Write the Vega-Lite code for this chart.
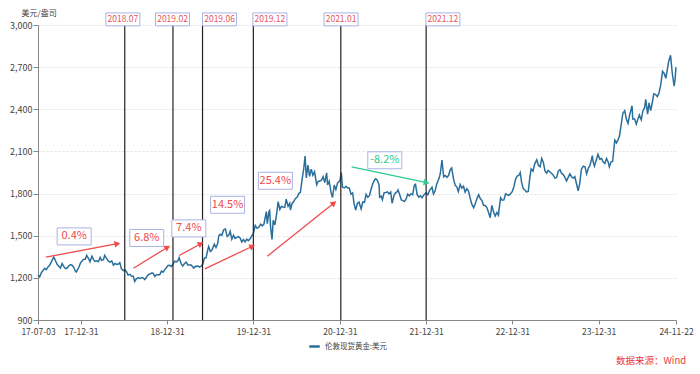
{
  "$schema": "https://vega.github.io/schema/vega-lite/v6.json",
  "autosize": {"type": "none"},
  "width": 638,
  "height": 295,
  "padding": {"left": 38, "top": 25, "right": 24, "bottom": 54},
  "background": "white",
  "config": {
    "font": "Noto Sans CJK SC",
    "view": {"stroke": null}
  },
  "title": {
    "text": "数据来源：Wind",
    "orient": "bottom",
    "anchor": "end",
    "color": "#e8383d",
    "fontSize": 9.5,
    "fontWeight": "normal",
    "offset": 4,
    "dx": -7
  },
  "datasets": {
    "gold": [
      {"date": "2017-07-03", "price": 1220}, {"date": "2017-07-10", "price": 1207}, {"date": "2017-07-17", "price": 1235}, {"date": "2017-07-24", "price": 1252}, {"date": "2017-07-31", "price": 1268},
      {"date": "2017-08-07", "price": 1258}, {"date": "2017-08-14", "price": 1278}, {"date": "2017-08-21", "price": 1290}, {"date": "2017-08-28", "price": 1312},
      {"date": "2017-09-05", "price": 1339}, {"date": "2017-09-08", "price": 1348}, {"date": "2017-09-15", "price": 1322}, {"date": "2017-09-22", "price": 1296}, {"date": "2017-09-29", "price": 1283},
      {"date": "2017-10-06", "price": 1270}, {"date": "2017-10-13", "price": 1302}, {"date": "2017-10-20", "price": 1282}, {"date": "2017-10-27", "price": 1266},
      {"date": "2017-11-03", "price": 1270}, {"date": "2017-11-10", "price": 1285}, {"date": "2017-11-17", "price": 1294}, {"date": "2017-11-24", "price": 1290},
      {"date": "2017-12-01", "price": 1275}, {"date": "2017-12-08", "price": 1248}, {"date": "2017-12-12", "price": 1242}, {"date": "2017-12-18", "price": 1260}, {"date": "2017-12-22", "price": 1272}, {"date": "2017-12-29", "price": 1303},
      {"date": "2018-01-05", "price": 1320}, {"date": "2018-01-12", "price": 1333}, {"date": "2018-01-19", "price": 1332}, {"date": "2018-01-25", "price": 1360},
      {"date": "2018-02-02", "price": 1337}, {"date": "2018-02-08", "price": 1315}, {"date": "2018-02-16", "price": 1354}, {"date": "2018-02-23", "price": 1330},
      {"date": "2018-03-01", "price": 1317}, {"date": "2018-03-09", "price": 1322}, {"date": "2018-03-16", "price": 1315}, {"date": "2018-03-23", "price": 1346}, {"date": "2018-03-29", "price": 1325},
      {"date": "2018-04-06", "price": 1330}, {"date": "2018-04-11", "price": 1360}, {"date": "2018-04-20", "price": 1337}, {"date": "2018-04-27", "price": 1319},
      {"date": "2018-05-04", "price": 1312}, {"date": "2018-05-11", "price": 1320}, {"date": "2018-05-18", "price": 1290}, {"date": "2018-05-25", "price": 1302},
      {"date": "2018-06-01", "price": 1296}, {"date": "2018-06-08", "price": 1299}, {"date": "2018-06-14", "price": 1308}, {"date": "2018-06-21", "price": 1264}, {"date": "2018-06-29", "price": 1252},
      {"date": "2018-07-06", "price": 1256}, {"date": "2018-07-13", "price": 1242}, {"date": "2018-07-19", "price": 1220}, {"date": "2018-07-27", "price": 1225},
      {"date": "2018-08-03", "price": 1212}, {"date": "2018-08-10", "price": 1211}, {"date": "2018-08-16", "price": 1175}, {"date": "2018-08-24", "price": 1195}, {"date": "2018-08-31", "price": 1201},
      {"date": "2018-09-07", "price": 1196}, {"date": "2018-09-14", "price": 1201}, {"date": "2018-09-21", "price": 1200}, {"date": "2018-09-28", "price": 1188},
      {"date": "2018-10-05", "price": 1205}, {"date": "2018-10-12", "price": 1222}, {"date": "2018-10-19", "price": 1227}, {"date": "2018-10-26", "price": 1234},
      {"date": "2018-11-02", "price": 1233}, {"date": "2018-11-09", "price": 1210}, {"date": "2018-11-16", "price": 1222}, {"date": "2018-11-23", "price": 1222}, {"date": "2018-11-30", "price": 1222},
      {"date": "2018-12-07", "price": 1248}, {"date": "2018-12-14", "price": 1240}, {"date": "2018-12-21", "price": 1257}, {"date": "2018-12-31", "price": 1279},
      {"date": "2019-01-04", "price": 1288}, {"date": "2019-01-11", "price": 1289}, {"date": "2019-01-18", "price": 1281}, {"date": "2019-01-25", "price": 1298},
      {"date": "2019-02-01", "price": 1319}, {"date": "2019-02-08", "price": 1314}, {"date": "2019-02-15", "price": 1322}, {"date": "2019-02-20", "price": 1344},
      {"date": "2019-03-01", "price": 1299}, {"date": "2019-03-07", "price": 1285}, {"date": "2019-03-15", "price": 1302}, {"date": "2019-03-22", "price": 1312}, {"date": "2019-03-29", "price": 1292},
      {"date": "2019-04-05", "price": 1291}, {"date": "2019-04-12", "price": 1292}, {"date": "2019-04-23", "price": 1270}, {"date": "2019-04-30", "price": 1283},
      {"date": "2019-05-03", "price": 1280}, {"date": "2019-05-10", "price": 1286}, {"date": "2019-05-17", "price": 1277}, {"date": "2019-05-24", "price": 1283}, {"date": "2019-05-31", "price": 1296},
      {"date": "2019-06-07", "price": 1341}, {"date": "2019-06-14", "price": 1342}, {"date": "2019-06-21", "price": 1399}, {"date": "2019-06-25", "price": 1423},
      {"date": "2019-07-02", "price": 1388}, {"date": "2019-07-09", "price": 1398}, {"date": "2019-07-19", "price": 1440}, {"date": "2019-07-26", "price": 1416},
      {"date": "2019-08-02", "price": 1444}, {"date": "2019-08-07", "price": 1500}, {"date": "2019-08-13", "price": 1510}, {"date": "2019-08-20", "price": 1503}, {"date": "2019-08-27", "price": 1541},
      {"date": "2019-09-04", "price": 1549}, {"date": "2019-09-11", "price": 1494}, {"date": "2019-09-18", "price": 1503}, {"date": "2019-09-24", "price": 1531},
      {"date": "2019-10-01", "price": 1475}, {"date": "2019-10-08", "price": 1503}, {"date": "2019-10-15", "price": 1481}, {"date": "2019-10-22", "price": 1488}, {"date": "2019-10-29", "price": 1493},
      {"date": "2019-11-05", "price": 1484}, {"date": "2019-11-12", "price": 1455}, {"date": "2019-11-19", "price": 1472}, {"date": "2019-11-26", "price": 1456},
      {"date": "2019-12-03", "price": 1475}, {"date": "2019-12-10", "price": 1465}, {"date": "2019-12-17", "price": 1478}, {"date": "2019-12-24", "price": 1498}, {"date": "2019-12-31", "price": 1515},
      {"date": "2020-01-08", "price": 1573}, {"date": "2020-01-15", "price": 1554}, {"date": "2020-01-22", "price": 1558}, {"date": "2020-01-31", "price": 1582},
      {"date": "2020-02-07", "price": 1570}, {"date": "2020-02-14", "price": 1584}, {"date": "2020-02-24", "price": 1672}, {"date": "2020-02-28", "price": 1586},
      {"date": "2020-03-06", "price": 1673}, {"date": "2020-03-09", "price": 1680}, {"date": "2020-03-13", "price": 1560}, {"date": "2020-03-19", "price": 1474}, {"date": "2020-03-24", "price": 1610}, {"date": "2020-03-31", "price": 1577},
      {"date": "2020-04-07", "price": 1649}, {"date": "2020-04-14", "price": 1742}, {"date": "2020-04-21", "price": 1688}, {"date": "2020-04-28", "price": 1709},
      {"date": "2020-05-05", "price": 1705}, {"date": "2020-05-12", "price": 1702}, {"date": "2020-05-18", "price": 1760}, {"date": "2020-05-26", "price": 1710},
      {"date": "2020-06-02", "price": 1730}, {"date": "2020-06-05", "price": 1683}, {"date": "2020-06-12", "price": 1730}, {"date": "2020-06-19", "price": 1743}, {"date": "2020-06-26", "price": 1765},
      {"date": "2020-07-03", "price": 1774}, {"date": "2020-07-10", "price": 1800}, {"date": "2020-07-17", "price": 1809}, {"date": "2020-07-24", "price": 1897}, {"date": "2020-07-31", "price": 1975},
      {"date": "2020-08-06", "price": 2067}, {"date": "2020-08-11", "price": 1912}, {"date": "2020-08-18", "price": 2002}, {"date": "2020-08-25", "price": 1923},
      {"date": "2020-09-01", "price": 1974}, {"date": "2020-09-08", "price": 1930}, {"date": "2020-09-15", "price": 1955}, {"date": "2020-09-24", "price": 1862}, {"date": "2020-09-30", "price": 1886},
      {"date": "2020-10-07", "price": 1889}, {"date": "2020-10-14", "price": 1895}, {"date": "2020-10-21", "price": 1920}, {"date": "2020-10-28", "price": 1878},
      {"date": "2020-11-05", "price": 1948}, {"date": "2020-11-09", "price": 1862}, {"date": "2020-11-16", "price": 1888}, {"date": "2020-11-24", "price": 1805}, {"date": "2020-11-30", "price": 1772},
      {"date": "2020-12-07", "price": 1861}, {"date": "2020-12-14", "price": 1829}, {"date": "2020-12-21", "price": 1875}, {"date": "2020-12-31", "price": 1891},
      {"date": "2021-01-06", "price": 1950}, {"date": "2021-01-11", "price": 1846}, {"date": "2021-01-19", "price": 1840}, {"date": "2021-01-26", "price": 1852},
      {"date": "2021-02-02", "price": 1839}, {"date": "2021-02-09", "price": 1840}, {"date": "2021-02-16", "price": 1795}, {"date": "2021-02-23", "price": 1805},
      {"date": "2021-03-01", "price": 1728}, {"date": "2021-03-08", "price": 1683}, {"date": "2021-03-15", "price": 1730}, {"date": "2021-03-22", "price": 1740}, {"date": "2021-03-31", "price": 1691},
      {"date": "2021-04-07", "price": 1740}, {"date": "2021-04-14", "price": 1737}, {"date": "2021-04-21", "price": 1794}, {"date": "2021-04-28", "price": 1773},
      {"date": "2021-05-05", "price": 1785}, {"date": "2021-05-12", "price": 1831}, {"date": "2021-05-19", "price": 1870}, {"date": "2021-05-27", "price": 1898},
      {"date": "2021-06-01", "price": 1905}, {"date": "2021-06-08", "price": 1894}, {"date": "2021-06-15", "price": 1860}, {"date": "2021-06-17", "price": 1774}, {"date": "2021-06-24", "price": 1781}, {"date": "2021-06-29", "price": 1756},
      {"date": "2021-07-06", "price": 1805}, {"date": "2021-07-13", "price": 1808}, {"date": "2021-07-20", "price": 1812}, {"date": "2021-07-27", "price": 1798},
      {"date": "2021-08-03", "price": 1811}, {"date": "2021-08-09", "price": 1731}, {"date": "2021-08-17", "price": 1787}, {"date": "2021-08-24", "price": 1805}, {"date": "2021-08-31", "price": 1815},
      {"date": "2021-09-03", "price": 1826}, {"date": "2021-09-10", "price": 1793}, {"date": "2021-09-17", "price": 1755}, {"date": "2021-09-24", "price": 1750}, {"date": "2021-09-30", "price": 1743},
      {"date": "2021-10-07", "price": 1760}, {"date": "2021-10-14", "price": 1796}, {"date": "2021-10-21", "price": 1784}, {"date": "2021-10-28", "price": 1799},
      {"date": "2021-11-04", "price": 1791}, {"date": "2021-11-11", "price": 1860}, {"date": "2021-11-16", "price": 1866}, {"date": "2021-11-23", "price": 1792}, {"date": "2021-11-30", "price": 1774},
      {"date": "2021-12-07", "price": 1784}, {"date": "2021-12-14", "price": 1770}, {"date": "2021-12-21", "price": 1790}, {"date": "2021-12-31", "price": 1805},
      {"date": "2022-01-07", "price": 1791}, {"date": "2022-01-14", "price": 1821}, {"date": "2022-01-25", "price": 1845}, {"date": "2022-01-31", "price": 1797},
      {"date": "2022-02-07", "price": 1820}, {"date": "2022-02-14", "price": 1869}, {"date": "2022-02-24", "price": 1910},
      {"date": "2022-03-01", "price": 1943}, {"date": "2022-03-08", "price": 2039}, {"date": "2022-03-15", "price": 1920}, {"date": "2022-03-22", "price": 1929}, {"date": "2022-03-29", "price": 1915},
      {"date": "2022-04-05", "price": 1930}, {"date": "2022-04-12", "price": 1970}, {"date": "2022-04-18", "price": 1982}, {"date": "2022-04-26", "price": 1903},
      {"date": "2022-05-03", "price": 1860}, {"date": "2022-05-10", "price": 1846}, {"date": "2022-05-16", "price": 1814}, {"date": "2022-05-24", "price": 1865}, {"date": "2022-05-31", "price": 1839},
      {"date": "2022-06-07", "price": 1852}, {"date": "2022-06-14", "price": 1810}, {"date": "2022-06-21", "price": 1835}, {"date": "2022-06-28", "price": 1820},
      {"date": "2022-07-05", "price": 1769}, {"date": "2022-07-12", "price": 1725}, {"date": "2022-07-20", "price": 1700}, {"date": "2022-07-27", "price": 1730},
      {"date": "2022-08-03", "price": 1764}, {"date": "2022-08-10", "price": 1792}, {"date": "2022-08-17", "price": 1765}, {"date": "2022-08-24", "price": 1750}, {"date": "2022-08-31", "price": 1715},
      {"date": "2022-09-07", "price": 1715}, {"date": "2022-09-14", "price": 1700}, {"date": "2022-09-21", "price": 1665}, {"date": "2022-09-28", "price": 1628},
      {"date": "2022-10-05", "price": 1716}, {"date": "2022-10-12", "price": 1670}, {"date": "2022-10-19", "price": 1640}, {"date": "2022-10-26", "price": 1665},
      {"date": "2022-11-02", "price": 1646}, {"date": "2022-11-04", "price": 1680}, {"date": "2022-11-11", "price": 1770}, {"date": "2022-11-18", "price": 1753}, {"date": "2022-11-25", "price": 1755},
      {"date": "2022-12-02", "price": 1798}, {"date": "2022-12-09", "price": 1792}, {"date": "2022-12-16", "price": 1787}, {"date": "2022-12-23", "price": 1798}, {"date": "2022-12-30", "price": 1813},
      {"date": "2023-01-06", "price": 1847}, {"date": "2023-01-13", "price": 1900}, {"date": "2023-01-20", "price": 1925}, {"date": "2023-01-27", "price": 1929},
      {"date": "2023-02-02", "price": 1950}, {"date": "2023-02-08", "price": 1878}, {"date": "2023-02-15", "price": 1835}, {"date": "2023-02-22", "price": 1826}, {"date": "2023-02-28", "price": 1812},
      {"date": "2023-03-08", "price": 1815}, {"date": "2023-03-14", "price": 1905}, {"date": "2023-03-20", "price": 1975}, {"date": "2023-03-28", "price": 1960},
      {"date": "2023-04-04", "price": 2010}, {"date": "2023-04-13", "price": 2040}, {"date": "2023-04-20", "price": 2001}, {"date": "2023-04-27", "price": 1990},
      {"date": "2023-05-04", "price": 2050}, {"date": "2023-05-11", "price": 2020}, {"date": "2023-05-18", "price": 1960}, {"date": "2023-05-25", "price": 1945}, {"date": "2023-05-31", "price": 1965},
      {"date": "2023-06-07", "price": 1955}, {"date": "2023-06-14", "price": 1945}, {"date": "2023-06-21", "price": 1933}, {"date": "2023-06-29", "price": 1910},
      {"date": "2023-07-06", "price": 1915}, {"date": "2023-07-13", "price": 1960}, {"date": "2023-07-20", "price": 1970}, {"date": "2023-07-27", "price": 1945},
      {"date": "2023-08-03", "price": 1935}, {"date": "2023-08-10", "price": 1915}, {"date": "2023-08-17", "price": 1890}, {"date": "2023-08-24", "price": 1915}, {"date": "2023-08-31", "price": 1940},
      {"date": "2023-09-07", "price": 1920}, {"date": "2023-09-14", "price": 1910}, {"date": "2023-09-21", "price": 1920}, {"date": "2023-09-28", "price": 1870},
      {"date": "2023-10-05", "price": 1820}, {"date": "2023-10-12", "price": 1875}, {"date": "2023-10-19", "price": 1975}, {"date": "2023-10-27", "price": 1995},
      {"date": "2023-11-03", "price": 1990}, {"date": "2023-11-10", "price": 1940}, {"date": "2023-11-17", "price": 1980}, {"date": "2023-11-24", "price": 2000}, {"date": "2023-11-30", "price": 2040},
      {"date": "2023-12-04", "price": 2070}, {"date": "2023-12-07", "price": 2030}, {"date": "2023-12-13", "price": 1995}, {"date": "2023-12-20", "price": 2035}, {"date": "2023-12-28", "price": 2080},
      {"date": "2024-01-05", "price": 2045}, {"date": "2024-01-12", "price": 2050}, {"date": "2024-01-19", "price": 2025}, {"date": "2024-01-26", "price": 2015},
      {"date": "2024-02-02", "price": 2050}, {"date": "2024-02-09", "price": 2025}, {"date": "2024-02-14", "price": 1990}, {"date": "2024-02-21", "price": 2025}, {"date": "2024-02-28", "price": 2030},
      {"date": "2024-03-05", "price": 2130}, {"date": "2024-03-08", "price": 2180}, {"date": "2024-03-15", "price": 2160}, {"date": "2024-03-21", "price": 2180}, {"date": "2024-03-28", "price": 2210},
      {"date": "2024-04-04", "price": 2290}, {"date": "2024-04-11", "price": 2370}, {"date": "2024-04-19", "price": 2390}, {"date": "2024-04-26", "price": 2330},
      {"date": "2024-05-03", "price": 2300}, {"date": "2024-05-10", "price": 2360}, {"date": "2024-05-20", "price": 2425}, {"date": "2024-05-23", "price": 2330}, {"date": "2024-05-31", "price": 2330},
      {"date": "2024-06-07", "price": 2295}, {"date": "2024-06-14", "price": 2330}, {"date": "2024-06-20", "price": 2360}, {"date": "2024-06-28", "price": 2325},
      {"date": "2024-07-05", "price": 2390}, {"date": "2024-07-12", "price": 2410}, {"date": "2024-07-17", "price": 2470}, {"date": "2024-07-25", "price": 2365}, {"date": "2024-07-31", "price": 2445},
      {"date": "2024-08-07", "price": 2390}, {"date": "2024-08-14", "price": 2450}, {"date": "2024-08-20", "price": 2510}, {"date": "2024-08-28", "price": 2505},
      {"date": "2024-09-04", "price": 2490}, {"date": "2024-09-11", "price": 2515}, {"date": "2024-09-18", "price": 2570}, {"date": "2024-09-26", "price": 2670},
      {"date": "2024-10-03", "price": 2655}, {"date": "2024-10-10", "price": 2620}, {"date": "2024-10-17", "price": 2690}, {"date": "2024-10-22", "price": 2740}, {"date": "2024-10-30", "price": 2785},
      {"date": "2024-11-06", "price": 2660}, {"date": "2024-11-14", "price": 2565}, {"date": "2024-11-18", "price": 2610}, {"date": "2024-11-22", "price": 2700}
    ],
    "events": [
      {"date": "2018-07-05", "labelDate": "2018-06-27", "label": "2018.07"},
      {"date": "2019-01-25", "labelDate": "2019-01-23", "label": "2019.02"},
      {"date": "2019-05-30", "labelDate": "2019-08-10", "label": "2019.06"},
      {"date": "2019-12-31", "labelDate": "2020-03-10", "label": "2019.12"},
      {"date": "2021-01-04", "labelDate": "2021-01-05", "label": "2021.01"},
      {"date": "2021-12-31", "labelDate": "2022-03-12", "label": "2021.12"}
    ],
    "arrows": [
      {"id": 1, "dir": "rise", "start": "2017-08-05", "v1": 1347, "end": "2018-06-04", "v2": 1443},
      {"id": 2, "dir": "rise", "start": "2018-08-11", "v1": 1268, "end": "2019-01-02", "v2": 1418},
      {"id": 3, "dir": "rise", "start": "2019-02-20", "v1": 1359, "end": "2019-05-23", "v2": 1443},
      {"id": 4, "dir": "rise", "start": "2019-06-09", "v1": 1264, "end": "2019-12-27", "v2": 1425},
      {"id": 5, "dir": "rise", "start": "2020-02-28", "v1": 1354, "end": "2020-12-06", "v2": 1733},
      {"id": 6, "dir": "fall", "start": "2021-02-19", "v1": 1990, "end": "2022-01-02", "v2": 1878}
    ],
    "notes": [
      {"dir": "rise", "date": "2017-12-03", "value": 1495, "label": "0.4%"},
      {"dir": "rise", "date": "2018-10-06", "value": 1484, "label": "6.8%"},
      {"dir": "rise", "date": "2019-04-02", "value": 1552, "label": "7.4%"},
      {"dir": "rise", "date": "2019-09-13", "value": 1720, "label": "14.5%"},
      {"dir": "rise", "date": "2020-04-02", "value": 1891, "label": "25.4%"},
      {"dir": "fall", "date": "2021-07-09", "value": 2037, "label": "-8.2%"}
    ]
  },
  "encoding": {
    "x": {
      "field": "date",
      "type": "temporal",
      "scale": {"type": "utc", "domain": [{"year": 2017, "month": 7, "date": 3, "utc": true}, {"year": 2024, "month": 11, "date": 22, "utc": true}]},
      "axis": {
        "title": null,
        "format": "%y-%m-%d",
        "values": [
          {"year": 2017, "month": 7, "date": 3, "utc": true},
          {"year": 2017, "month": 12, "date": 31, "utc": true},
          {"year": 2018, "month": 12, "date": 31, "utc": true},
          {"year": 2019, "month": 12, "date": 31, "utc": true},
          {"year": 2020, "month": 12, "date": 31, "utc": true},
          {"year": 2021, "month": 12, "date": 31, "utc": true},
          {"year": 2022, "month": 12, "date": 31, "utc": true},
          {"year": 2023, "month": 12, "date": 31, "utc": true},
          {"year": 2024, "month": 11, "date": 22, "utc": true}
        ],
        "grid": false,
        "labelFontSize": 8.5,
        "labelColor": "#444",
        "labelOverlap": false,
        "labelFlush": false,
        "labelPadding": 3,
        "domainColor": "#888",
        "tickColor": "#888",
        "tickSize": 4
      }
    }
  },
  "layer": [
    {
      "data": {"name": "gold"},
      "mark": {"type": "line", "strokeWidth": 1.5},
      "encoding": {
        "y": {
          "field": "price",
          "type": "quantitative",
          "scale": {"domain": [900, 3000], "nice": false, "zero": false},
          "axis": {
            "title": "美元/盎司",
            "titleAngle": 0,
            "titleAlign": "left",
            "titleBaseline": "middle",
            "titleX": -17,
            "titleY": -12,
            "titleFontSize": 8,
            "titleFontWeight": "normal",
            "titleColor": "#444",
            "values": [900, 1200, 1500, 1800, 2100, 2400, 2700, 3000],
            "format": ",.0f",
            "labelFontSize": 9,
            "labelColor": "#444",
            "labelPadding": 1,
            "domainColor": "#888",
            "tickColor": "#888",
            "tickSize": 5,
            "gridColor": "#e2e2e2",
            "gridDash": [2, 2]
          }
        },
        "color": {
          "datum": "伦敦现货黄金:美元",
          "type": "nominal",
          "scale": {"range": ["#2a6f9b"]},
          "legend": {
            "title": null,
            "orient": "none",
            "legendX": 270,
            "legendY": 315,
            "symbolType": "stroke",
            "symbolStrokeWidth": 2.5,
            "symbolSize": 110,
            "labelFontSize": 7.5,
            "labelColor": "#444"
          }
        }
      }
    },
    {
      "data": {"name": "events"},
      "mark": {"type": "rule", "color": "#222", "strokeWidth": 1.2},
      "encoding": {}
    },
    {
      "data": {"name": "events"},
      "mark": {"type": "point", "shape": "M-1,-0.38H1V0.38H-1Z", "size": 1156, "filled": true, "fill": "white", "stroke": "#a9b3e3", "strokeWidth": 1, "opacity": 1, "clip": false},
      "encoding": {"x": {"field": "labelDate", "type": "temporal"}, "y": {"datum": 3040, "type": "quantitative"}}
    },
    {
      "data": {"name": "events"},
      "mark": {"type": "text", "color": "#e8545a", "fontSize": 8.5, "baseline": "middle", "align": "center", "clip": false},
      "encoding": {"x": {"field": "labelDate", "type": "temporal"}, "y": {"datum": 3040, "type": "quantitative"}, "text": {"field": "label"}}
    },
    {
      "data": {"name": "arrows"},
      "mark": {"type": "rule", "strokeWidth": 1.3},
      "encoding": {
        "x": {"field": "start", "type": "temporal"},
        "x2": {"field": "end"},
        "y": {"field": "v1", "type": "quantitative"},
        "y2": {"field": "v2"},
        "color": {"condition": {"test": "datum.dir === 'fall'", "value": "#2ecb8c"}, "value": "#f04a4a"}
      }
    },
    {
      "data": {"name": "arrows"},
      "transform": [{"filter": "datum.id === 1"}],
      "mark": {"type": "point", "shape": "triangle-right", "filled": true, "size": 45, "angle": -10.6, "color": "#f04a4a", "opacity": 1},
      "encoding": {"x": {"field": "end", "type": "temporal"}, "y": {"field": "v2", "type": "quantitative"}}
    },
    {
      "data": {"name": "arrows"},
      "transform": [{"filter": "datum.id === 2"}],
      "mark": {"type": "point", "shape": "triangle-right", "filled": true, "size": 45, "angle": -31.7, "color": "#f04a4a", "opacity": 1},
      "encoding": {"x": {"field": "end", "type": "temporal"}, "y": {"field": "v2", "type": "quantitative"}}
    },
    {
      "data": {"name": "arrows"},
      "transform": [{"filter": "datum.id === 3"}],
      "mark": {"type": "point", "shape": "triangle-right", "filled": true, "size": 45, "angle": -28.3, "color": "#f04a4a", "opacity": 1},
      "encoding": {"x": {"field": "end", "type": "temporal"}, "y": {"field": "v2", "type": "quantitative"}}
    },
    {
      "data": {"name": "arrows"},
      "transform": [{"filter": "datum.id === 4"}],
      "mark": {"type": "point", "shape": "triangle-right", "filled": true, "size": 45, "angle": -25.4, "color": "#f04a4a", "opacity": 1},
      "encoding": {"x": {"field": "end", "type": "temporal"}, "y": {"field": "v2", "type": "quantitative"}}
    },
    {
      "data": {"name": "arrows"},
      "transform": [{"filter": "datum.id === 5"}],
      "mark": {"type": "point", "shape": "triangle-right", "filled": true, "size": 45, "angle": -38.5, "color": "#f04a4a", "opacity": 1},
      "encoding": {"x": {"field": "end", "type": "temporal"}, "y": {"field": "v2", "type": "quantitative"}}
    },
    {
      "data": {"name": "arrows"},
      "transform": [{"filter": "datum.id === 6"}],
      "mark": {"type": "point", "shape": "triangle-right", "filled": true, "size": 45, "angle": 11.8, "color": "#2ecb8c", "opacity": 1},
      "encoding": {"x": {"field": "end", "type": "temporal"}, "y": {"field": "v2", "type": "quantitative"}}
    },
    {
      "data": {"name": "notes"},
      "mark": {"type": "point", "shape": "M-1,-0.5H1V0.5H-1Z", "size": 1156, "filled": true, "fill": "white", "stroke": "#a9b3e3", "strokeWidth": 1, "opacity": 1},
      "encoding": {"y": {"field": "value", "type": "quantitative"}}
    },
    {
      "data": {"name": "notes"},
      "mark": {"type": "text", "fontSize": 11, "baseline": "middle", "align": "center"},
      "encoding": {
        "y": {"field": "value", "type": "quantitative"},
        "text": {"field": "label"},
        "color": {"condition": {"test": "datum.dir === 'fall'", "value": "#2ecb8c"}, "value": "#f04a4a"}
      }
    }
  ]
}
